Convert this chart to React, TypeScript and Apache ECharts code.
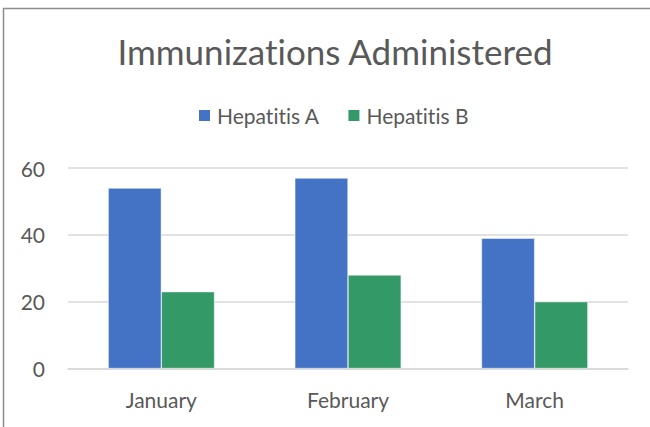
import React, { useEffect, useRef } from "react";
import * as echarts from "echarts";

const categories = ["January", "February", "March"];
const hepatitisA = [54, 57, 39];
const hepatitisB = [23, 28, 20];
const yTicks = [0, 20, 40, 60];

export default function App() {
  const ref = useRef<HTMLDivElement>(null);
  useEffect(() => {
    if (!ref.current) return;
    const chart = echarts.init(ref.current, null, { renderer: "svg" });
    const font = "Lato";
    chart.setOption({
      animation: false,
      backgroundColor: "#ffffff",
      title: {
        text: "Immunizations Administered",
        left: 330,
        textAlign: "center",
        top: 28,
        textStyle: { fontFamily: font, fontSize: 35, fontWeight: "normal", color: "#595959" },
      },
      legend: {
        top: 105,
        left: 197,
        padding: 0,
        itemWidth: 13,
        itemHeight: 13,
        itemGap: 26,
        icon: "rect",
        textStyle: { fontFamily: font, fontSize: 21, color: "#595959", padding: [0, 0, 0, 1] },
      },
      graphic: [
        {
          type: "polyline",
          shape: { points: [[3.5, 430], [3.5, 8.5], [655, 8.5]] },
          style: { stroke: "#8c8c8c", lineWidth: 1.5, fill: "none" },
          silent: true,
        },
      ],
      grid: { left: 68, right: 22, top: 168, bottom: 58.5 },
      xAxis: {
        type: "category",
        data: categories,
        axisLine: { lineStyle: { color: "#d9d9d9", width: 1.5 } },
        axisTick: { show: false },
        axisLabel: { fontFamily: font, fontSize: 21, color: "#595959", margin: 20 },
      },
      yAxis: {
        type: "value",
        min: yTicks[0],
        max: yTicks[yTicks.length - 1],
        interval: 20,
        axisLine: { show: false },
        axisTick: { show: false },
        splitLine: { lineStyle: { color: "#d9d9d9", width: 1.5 } },
        axisLabel: { fontFamily: font, fontSize: 21, color: "#595959", margin: 23 },
      },
      series: [
        {
          name: "Hepatitis A",
          type: "bar",
          data: hepatitisA,
          barGap: "0%",
          barCategoryGap: "43%",
          itemStyle: { color: "#4472C4", borderColor: "#ffffff", borderWidth: 0.5 },
        },
        {
          name: "Hepatitis B",
          type: "bar",
          data: hepatitisB,
          itemStyle: { color: "#339966", borderColor: "#ffffff", borderWidth: 0.5 },
        },
      ],
    });
    return () => chart.dispose();
  }, []);
  return (
    <>
      <style>{"text { font-variant-ligatures: none; font-feature-settings: 'liga' 0; }"}</style>
      <div
        ref={ref}
        style={{ position: "absolute", left: 0, top: 0, width: 650, height: 427 }}
      />
    </>
  );
}
